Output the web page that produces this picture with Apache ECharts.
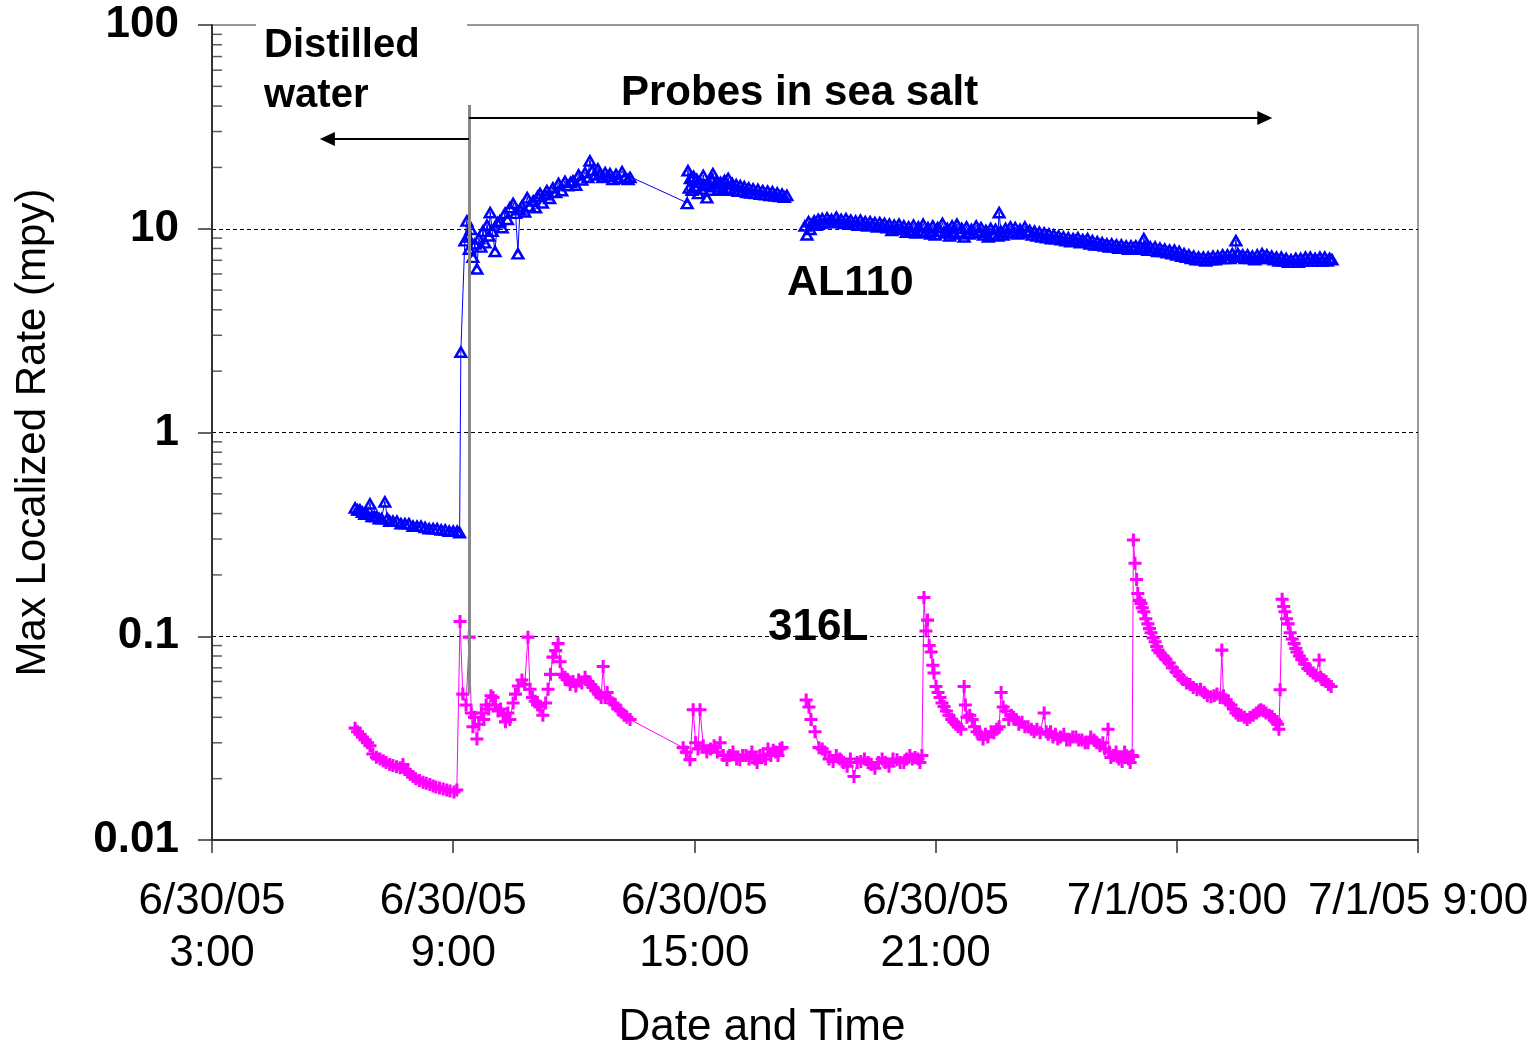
<!DOCTYPE html>
<html>
<head>
<meta charset="utf-8">
<script src="https://cdn.jsdelivr.net/npm/echarts@6/dist/echarts.min.js"></script>
<style>
html,body{margin:0;padding:0;background:#fff;}
#chart{width:1540px;height:1044px;}
</style>
</head>
<body>
<div id="chart"></div>
<script>
// x values: hours elapsed since 6/30/05 3:00
const xTickLabels = ['6/30/05\n3:00', '6/30/05\n9:00', '6/30/05\n15:00', '6/30/05\n21:00', '7/1/05 3:00', '7/1/05 9:00'];
const yTickLabels = ['0.01', '0.1', '1', '10', '100'];
const yMinorTicks = [0.02,0.03,0.04,0.05,0.06,0.07,0.08,0.09,0.2,0.3,0.4,0.5,0.6,0.7,0.8,0.9,2,3,4,5,6,7,8,9,20,30,40,50,60,70,80,90];

// AL110: distilled water, then first sea-salt period
const al110Distilled = [
[3.56,0.43],[3.62,0.42],[3.68,0.42],[3.74,0.41],[3.80,0.40],[3.86,0.40],[3.93,0.45],[3.98,0.39],[4.04,0.39],[4.10,0.39],
[4.16,0.38],[4.22,0.38],[4.30,0.46],[4.36,0.38],[4.42,0.37],[4.50,0.37],[4.60,0.37],[4.70,0.36],[4.80,0.36],[4.90,0.36],
[5.00,0.35],[5.10,0.35],[5.20,0.35],[5.30,0.345],[5.40,0.34],[5.50,0.34],[5.60,0.34],[5.70,0.335],[5.80,0.335],[5.90,0.33],
[6.00,0.33],[6.10,0.33],[6.16,0.325]
];
const al110Salt1 = [
[6.19,2.5],[6.29,8.8],[6.34,11.0],[6.37,9.2],[6.40,8.0],[6.44,10.0],[6.49,7.3],[6.54,8.5],[6.59,6.4],[6.64,9.0],
[6.69,8.2],[6.74,9.8],[6.79,8.6],[6.84,10.5],[6.89,9.3],[6.92,12.1],[6.97,9.8],[7.04,7.8],[7.10,10.8],[7.16,11.0],
[7.22,10.2],[7.29,12.0],[7.35,11.2],[7.41,12.8],[7.49,13.4],[7.55,12.0],[7.61,7.6],[7.66,12.5],[7.71,13.0],[7.78,12.2],
[7.84,14.3],[7.90,13.0],[7.99,13.8],[8.05,12.8],[8.10,14.5],[8.16,15.0],[8.22,13.5],[8.28,14.8],[8.33,15.5],[8.40,14.2],
[8.48,16.0],[8.55,15.2],[8.62,16.8],[8.70,15.5],[8.78,17.2],[8.85,16.4],[8.92,17.0],[8.98,17.3],[9.05,16.5],[9.12,18.5],
[9.20,17.5],[9.28,19.0],[9.35,18.0],[9.40,21.7],[9.46,19.5],[9.53,18.5],[9.60,19.8],[9.65,18.8],[9.72,18.0],[9.78,19.0],
[9.85,18.2],[9.90,18.8],[9.97,17.6],[10.05,18.6],[10.12,17.8],[10.20,19.2],[10.27,18.0],[10.35,17.6],[10.40,18.0],
[11.82,13.4],[11.84,19.4],[11.87,16.0],[11.90,17.8],[11.94,15.6],[11.98,18.2],[12.02,16.2],[12.06,17.6],[12.10,15.0],[12.14,17.0],
[12.18,15.8],[12.22,18.4],[12.26,16.4],[12.31,14.3],[12.35,16.8],[12.40,15.6],[12.44,17.6],[12.46,18.8],[12.50,16.2],[12.55,17.2],
[12.60,15.8],[12.65,17.0],[12.70,15.6],[12.75,17.4],[12.80,16.0],[12.84,17.8],[12.89,15.8],[12.94,16.8],[12.99,15.6],[13.04,16.6],
[13.09,15.4],[13.14,16.4],[13.19,15.5],[13.24,16.2],[13.30,15.2],[13.35,16.0],[13.40,15.1],[13.46,15.8],[13.52,15.0],[13.58,15.7],
[13.64,14.9],[13.70,15.5],[13.76,14.8],[13.82,15.4],[13.88,14.7],[13.94,15.3],[14.00,14.6],[14.06,15.1],[14.12,14.5],[14.18,14.9],
[14.24,14.4],[14.30,14.7]
];
// AL110: second sea-salt period (after the data gap)
const al110Salt2 = [
[14.75,10.4],[14.80,9.4],[14.84,10.9],[14.88,10.0],[14.93,10.6],[14.98,11.0],[15.03,10.5],[15.08,11.2],[15.13,10.7],[15.18,11.3],
[15.24,10.8],[15.30,11.4],[15.35,10.9],[15.41,11.2],[15.47,10.8],[15.53,11.5],[15.59,10.9],[15.65,11.2],[15.71,10.7],[15.77,11.3],
[15.83,10.8],[15.89,11.1],[15.95,10.6],[16.01,11.0],[16.07,10.5],[16.13,11.1],[16.19,10.6],[16.25,10.9],[16.31,10.4],[16.37,10.9],
[16.43,10.5],[16.49,10.8],[16.55,10.3],[16.61,10.8],[16.67,10.4],[16.73,10.7],[16.79,10.2],[16.85,10.6],[16.91,9.9],[16.97,10.5],
[17.03,10.1],[17.09,10.6],[17.15,10.0],[17.21,10.4],[17.27,9.7],[17.33,10.3],[17.39,9.9],[17.45,10.5],[17.51,9.6],[17.57,10.3],
[17.63,9.8],[17.69,10.6],[17.75,9.7],[17.81,10.2],[17.87,9.5],[17.93,10.4],[17.99,9.4],[18.05,10.2],[18.11,9.8],[18.17,10.7],
[18.23,9.6],[18.29,10.1],[18.35,9.3],[18.41,10.4],[18.47,9.5],[18.53,10.6],[18.59,9.7],[18.65,10.1],[18.71,9.2],[18.77,10.3],
[18.83,9.5],[18.89,10.0],[18.95,9.6],[19.01,10.4],[19.07,9.7],[19.13,10.2],[19.19,9.4],[19.25,9.9],[19.31,9.2],[19.37,10.1],
[19.43,9.4],[19.49,10.0],[19.55,9.3],[19.58,12.1],[19.62,9.8],[19.68,9.4],[19.74,10.1],[19.80,9.6],[19.86,10.3],[19.92,9.7],
[19.98,10.2],[20.04,9.5],[20.10,10.0],[20.16,9.6],[20.22,10.3],[20.28,9.7],[20.34,9.9],[20.40,9.4],[20.46,9.8],[20.52,9.3],
[20.58,9.7],[20.64,9.2],[20.70,9.6],[20.76,9.1],[20.82,9.5],[20.88,9.0],[20.94,9.4],[21.00,9.0],[21.06,9.3],[21.12,8.9],
[21.18,9.2],[21.24,8.8],[21.30,9.1],[21.36,8.7],[21.42,9.0],[21.48,8.8],[21.54,9.1],[21.60,8.6],[21.66,8.9],[21.72,8.7],
[21.78,9.0],[21.84,8.5],[21.90,8.8],[21.96,8.4],[22.02,8.7],[22.08,8.4],[22.14,8.6],[22.20,8.3],[22.26,8.5],[22.32,8.2],
[22.38,8.5],[22.44,8.2],[22.50,8.4],[22.56,8.1],[22.62,8.4],[22.68,8.1],[22.74,8.3],[22.80,8.0],[22.86,8.3],[22.92,8.1],
[22.98,8.3],[23.04,8.0],[23.10,8.2],[23.16,8.0],[23.18,9.0],[23.22,8.2],[23.28,7.9],[23.34,8.2],[23.40,7.9],[23.46,8.2],
[23.52,7.8],[23.58,8.1],[23.64,7.8],[23.70,8.0],[23.76,7.7],[23.82,7.9],[23.88,7.6],[23.94,7.9],[24.00,7.5],[24.06,7.8],
[24.12,7.4],[24.18,7.6],[24.24,7.3],[24.30,7.5],[24.36,7.2],[24.42,7.4],[24.48,7.1],[24.54,7.3],[24.60,7.1],[24.66,7.3],
[24.72,7.0],[24.78,7.3],[24.84,7.1],[24.90,7.4],[24.96,7.1],[25.02,7.4],[25.08,7.2],[25.14,7.5],[25.20,7.2],[25.26,7.5],
[25.32,7.2],[25.38,7.6],[25.44,7.3],[25.47,8.8],[25.52,7.6],[25.58,7.3],[25.64,7.5],[25.70,7.2],[25.76,7.5],[25.82,7.2],
[25.88,7.4],[25.94,7.1],[26.00,7.5],[26.06,7.2],[26.12,7.6],[26.18,7.3],[26.24,7.5],[26.30,7.2],[26.36,7.4],[26.42,7.1],
[26.48,7.3],[26.54,7.0],[26.60,7.3],[26.66,7.0],[26.72,7.2],[26.78,6.9],[26.84,7.1],[26.90,6.9],[26.96,7.2],[27.02,6.9],
[27.08,7.2],[27.14,7.0],[27.20,7.3],[27.26,7.0],[27.32,7.3],[27.38,7.0],[27.44,7.2],[27.50,7.0],[27.56,7.3],[27.62,7.0],
[27.68,7.3],[27.74,7.0],[27.80,7.2],[27.86,7.1]
];

// 316L: distilled water, then first sea-salt period
const ss316Distilled = [
[3.56,0.0354],[3.62,0.034],[3.68,0.033],[3.74,0.032],[3.81,0.031],[3.87,0.030],[3.93,0.029],[4.00,0.0264],[4.09,0.0255],[4.18,0.025],
[4.26,0.0245],[4.33,0.024],[4.42,0.0235],[4.50,0.0232],[4.59,0.0229],[4.68,0.0226],[4.75,0.0235],[4.80,0.0222],[4.87,0.0215],[4.93,0.021],
[5.00,0.0205],[5.07,0.020],[5.16,0.0196],[5.25,0.0192],[5.33,0.019],[5.42,0.0187],[5.50,0.0184],[5.57,0.0182],[5.66,0.018],[5.75,0.0178],
[5.84,0.0176],[5.92,0.0174],[6.02,0.0172],[6.09,0.0176]
];
const ss316Salt1 = [
[6.17,0.118],[6.24,0.052],[6.32,0.046],[6.40,0.099],[6.45,0.042],[6.49,0.036],[6.53,0.040],[6.59,0.0313],[6.64,0.037],[6.70,0.042],
[6.76,0.039],[6.82,0.046],[6.88,0.044],[6.94,0.051],[6.99,0.050],[7.05,0.046],[7.12,0.043],[7.18,0.044],[7.24,0.041],[7.30,0.038],
[7.36,0.042],[7.41,0.039],[7.49,0.047],[7.55,0.052],[7.62,0.057],[7.71,0.061],[7.78,0.058],[7.86,0.099],[7.91,0.055],[7.97,0.050],
[8.04,0.048],[8.10,0.046],[8.16,0.045],[8.23,0.041],[8.30,0.047],[8.36,0.055],[8.42,0.065],[8.48,0.079],[8.55,0.085],[8.61,0.092],
[8.66,0.075],[8.71,0.065],[8.78,0.063],[8.85,0.061],[8.91,0.058],[8.98,0.060],[9.05,0.057],[9.12,0.061],[9.20,0.059],[9.28,0.063],
[9.35,0.060],[9.42,0.058],[9.48,0.056],[9.55,0.054],[9.62,0.052],[9.68,0.050],[9.73,0.071],[9.78,0.050],[9.83,0.053],[9.90,0.049],
[9.97,0.047],[10.03,0.046],[10.10,0.044],[10.17,0.043],[10.25,0.041],[10.32,0.040],[10.40,0.039],
[11.72,0.0284],[11.80,0.027],[11.89,0.0248],[11.97,0.0436],[12.03,0.030],[12.09,0.028],[12.14,0.0436],[12.22,0.029],[12.31,0.027],[12.40,0.028],
[12.49,0.029],[12.57,0.027],[12.64,0.030],[12.72,0.026],[12.81,0.0248],[12.88,0.026],[12.96,0.027],[13.05,0.025],[13.13,0.0248],[13.20,0.026],
[13.28,0.026],[13.36,0.025],[13.43,0.027],[13.50,0.025],[13.56,0.024],[13.63,0.026],[13.71,0.026],[13.77,0.025],[13.83,0.028],[13.90,0.026],
[13.96,0.0276],[14.02,0.027],[14.08,0.026],[14.13,0.028],[14.18,0.0284]
];
// 316L: second sea-salt period (after the data gap)
const ss316Salt2 = [
[14.78,0.0486],[14.85,0.045],[14.90,0.039],[15.00,0.034],[15.10,0.0284],[15.18,0.028],[15.25,0.027],[15.35,0.025],[15.45,0.0243],[15.53,0.026],
[15.62,0.025],[15.71,0.024],[15.80,0.023],[15.88,0.025],[15.97,0.0205],[16.05,0.024],[16.14,0.0243],[16.23,0.025],[16.32,0.024],[16.40,0.0235],
[16.49,0.0225],[16.58,0.024],[16.67,0.025],[16.75,0.024],[16.84,0.023],[16.94,0.025],[17.04,0.0248],[17.12,0.024],[17.21,0.024],[17.28,0.025],
[17.36,0.026],[17.42,0.025],[17.49,0.0254],[17.56,0.025],[17.61,0.024],[17.66,0.026],
[17.71,0.155],[17.76,0.106],[17.80,0.12],[17.84,0.090],[17.89,0.0836],[17.93,0.072],[17.96,0.066],[18.01,0.0567],[18.06,0.053],[18.11,0.050],
[18.16,0.047],[18.21,0.0452],[18.27,0.043],[18.33,0.041],[18.40,0.039],[18.46,0.0378],[18.51,0.037],[18.56,0.036],[18.63,0.035],[18.71,0.0567],
[18.74,0.046],[18.78,0.040],[18.85,0.041],[18.91,0.039],[18.97,0.036],[19.03,0.034],[19.10,0.033],[19.18,0.0313],[19.24,0.033],[19.30,0.032],
[19.38,0.034],[19.45,0.0336],[19.52,0.035],[19.58,0.036],[19.63,0.053],[19.68,0.045],[19.75,0.043],[19.82,0.039],[19.88,0.041],[19.94,0.040],
[20.00,0.039],[20.07,0.037],[20.15,0.0378],[20.22,0.036],[20.30,0.036],[20.38,0.035],[20.45,0.034],[20.52,0.035],[20.60,0.0336],[20.70,0.042],
[20.75,0.034],[20.80,0.033],[20.86,0.034],[20.92,0.032],[20.98,0.033],[21.04,0.0313],[21.11,0.032],[21.19,0.033],[21.26,0.031],[21.34,0.031],
[21.41,0.032],[21.49,0.032],[21.56,0.031],[21.64,0.031],[21.72,0.030],[21.79,0.030],[21.86,0.032],[21.94,0.031],[22.01,0.030],[22.09,0.029],
[22.16,0.030],[22.21,0.028],[22.29,0.035],[22.32,0.027],[22.36,0.0254],[22.43,0.026],[22.49,0.027],[22.56,0.025],[22.64,0.0243],[22.70,0.027],
[22.74,0.026],[22.80,0.025],[22.84,0.024],[22.89,0.026],[22.91,0.0257],
[22.92,0.297],[22.96,0.228],[23.00,0.19],[23.03,0.162],[23.07,0.150],[23.11,0.145],[23.14,0.138],[23.18,0.132],[23.23,0.122],[23.28,0.115],
[23.32,0.109],[23.36,0.104],[23.41,0.098],[23.46,0.094],[23.50,0.089],[23.53,0.0855],[23.58,0.083],[23.66,0.080],[23.73,0.077],[23.81,0.0739],
[23.89,0.070],[23.98,0.067],[24.06,0.064],[24.15,0.0613],[24.24,0.059],[24.33,0.058],[24.41,0.056],[24.50,0.0546],[24.59,0.055],[24.68,0.053],
[24.76,0.051],[24.85,0.0505],[24.93,0.051],[25.00,0.052],[25.08,0.050],[25.12,0.0855],[25.16,0.051],[25.22,0.0488],[25.28,0.047],[25.35,0.046],
[25.41,0.044],[25.47,0.042],[25.53,0.041],[25.60,0.041],[25.68,0.040],[25.75,0.039],[25.82,0.040],[25.90,0.041],[25.98,0.042],[26.04,0.043],
[26.09,0.0436],[26.16,0.043],[26.22,0.042],[26.30,0.041],[26.37,0.0404],[26.43,0.039],[26.47,0.038],[26.51,0.037],[26.54,0.035],
[26.57,0.0546],[26.62,0.152],[26.66,0.140],[26.69,0.132],[26.73,0.122],[26.77,0.115],[26.82,0.104],[26.87,0.097],[26.92,0.092],[26.96,0.087],
[26.99,0.0836],[27.05,0.080],[27.11,0.077],[27.18,0.073],[27.26,0.0695],[27.32,0.068],[27.39,0.066],[27.46,0.064],[27.54,0.0765],[27.58,0.063],
[27.61,0.0613],[27.66,0.061],[27.71,0.060],[27.77,0.058],[27.84,0.0567]
];

const al110Data = al110Distilled.concat(al110Salt1, [[14.5, '-']], al110Salt2);
const ss316Data = ss316Distilled.concat(ss316Salt1, [[14.5, '-']], ss316Salt2);

const FONT = "'Liberation Sans', Arial, Helvetica, sans-serif";
const triangleSymbol = 'path://M6,0L12,12L0,12Z M6,4.92L3.56,9.8L8.44,9.8Z';
const plusSymbol = 'path://M4.6,0H7.4V4.6H12V7.4H7.4V12H4.6V7.4H0V4.6H4.6Z';

const chart = echarts.init(document.getElementById('chart'));
chart.setOption({
  animation: false,
  backgroundColor: '#fff',
  grid: { left: 212, right: 122, top: 25, bottom: 204, outerBoundsMode: 'none', containLabel: false,
          show: true, borderColor: '#999', borderWidth: 2, backgroundColor: 'transparent' },
  xAxis: {
    type: 'value', min: 0, max: 30, interval: 6,
    name: 'Date and Time', nameLocation: 'middle', nameGap: 166,
    nameTextStyle: { fontFamily: FONT, fontSize: 44, color: '#000', padding: [0, 106, 0, 0], lineHeight: 44 },
    axisLine: { show: true, lineStyle: { color: '#333', width: 2 } },
    axisTick: { show: true, length: 13, lineStyle: { color: '#333', width: 1.5 } },
    axisLabel: {
      fontFamily: FONT, fontSize: 44, lineHeight: 52, color: '#000', margin: 36,
      showMinLabel: true, showMaxLabel: true,
      formatter: function (v) { return xTickLabels[Math.round(v / 6)]; }
    },
    splitLine: { show: false }
  },
  yAxis: {
    type: 'log', logBase: 10, min: 0.01, max: 100,
    name: 'Max Localized Rate (mpy)', nameLocation: 'middle', nameGap: 158,
    nameTextStyle: { fontFamily: FONT, fontSize: 42, color: '#000' },
    axisLine: { show: true, lineStyle: { color: '#333', width: 2 } },
    axisTick: { show: true, inside: false, length: 14, lineStyle: { color: '#333', width: 1.5 } },
    axisLabel: {
      fontFamily: FONT, fontSize: 44, fontWeight: 'bold', color: '#000', margin: 33,
      formatter: function (v) { return yTickLabels[Math.round(Math.log10(v)) + 2]; }
    },
    splitLine: { show: true, showMinLine: false, showMaxLine: false, lineStyle: { color: '#000', width: 1, type: [4, 3] } }
  },
  series: [
    {
      name: 'AL110', type: 'line', data: al110Data, connectNulls: false,
      symbol: triangleSymbol, symbolSize: [15, 13], showSymbol: true, showAllSymbol: true,
      itemStyle: { color: '#0000ff' }, lineStyle: { color: '#0000ff', width: 1 }, z: 3,
      markLine: {
        silent: true, animation: false, label: { show: false }, symbol: ['none', 'none'],
        data: [
          [{ coord: [6.39, 40.5], symbol: 'none', lineStyle: { color: '#888', width: 3, type: 'solid' } },
           { coord: [6.39, 0.0527], symbol: 'none' }],
          [{ coord: [6.39, 35], symbol: 'none', lineStyle: { color: '#000', width: 2, type: 'solid' } },
           { coord: [26.19, 35], symbol: 'triangle', symbolSize: [14, 15] }],
          [{ coord: [6.39, 27.6], symbol: 'none', lineStyle: { color: '#000', width: 2, type: 'solid' } },
           { coord: [2.87, 27.6], symbol: 'triangle', symbolSize: [14, 15] }]
        ]
      }
    },
    {
      name: '316L', type: 'line', data: ss316Data, connectNulls: false,
      symbol: plusSymbol, symbolSize: 13, showSymbol: true, showAllSymbol: true,
      itemStyle: { color: '#ff00ff' }, lineStyle: { color: '#ff00ff', width: 1 }, z: 3
    },
    {
      name: 'minorTicks', type: 'scatter', silent: true, clip: false,
      data: yMinorTicks.map(function (v) { return [0, v]; }),
      symbol: 'rect', symbolSize: [10, 1.5], symbolOffset: [5, 0],
      itemStyle: { color: '#333' }, z: 5
    }
  ],
  graphic: [
    { type: 'rect', z: 100, shape: { x: 256, y: 14, width: 211, height: 24 }, style: { fill: '#fff' } },
    { type: 'text', z: 101, x: 264, y: 21,
      style: { text: 'Distilled\nwater', font: 'bold 40px ' + FONT, fill: '#000', lineHeight: 50,
               align: 'left', verticalAlign: 'top', textAlign: 'left', textVerticalAlign: 'top' } },
    { type: 'text', z: 101, x: 621, y: 93,
      style: { text: 'Probes in sea salt', font: 'bold 42px ' + FONT, fill: '#000',
               align: 'left', verticalAlign: 'middle', textAlign: 'left', textVerticalAlign: 'middle' } },
    { type: 'text', z: 101, x: 787, y: 283,
      style: { text: 'AL110', font: 'bold 43px ' + FONT, fill: '#000',
               align: 'left', verticalAlign: 'middle', textAlign: 'left', textVerticalAlign: 'middle' } },
    { type: 'text', z: 101, x: 768, y: 628,
      style: { text: '316L', font: 'bold 44px ' + FONT, fill: '#000',
               align: 'left', verticalAlign: 'middle', textAlign: 'left', textVerticalAlign: 'middle' } }
  ]
});
</script>
</body>
</html>
